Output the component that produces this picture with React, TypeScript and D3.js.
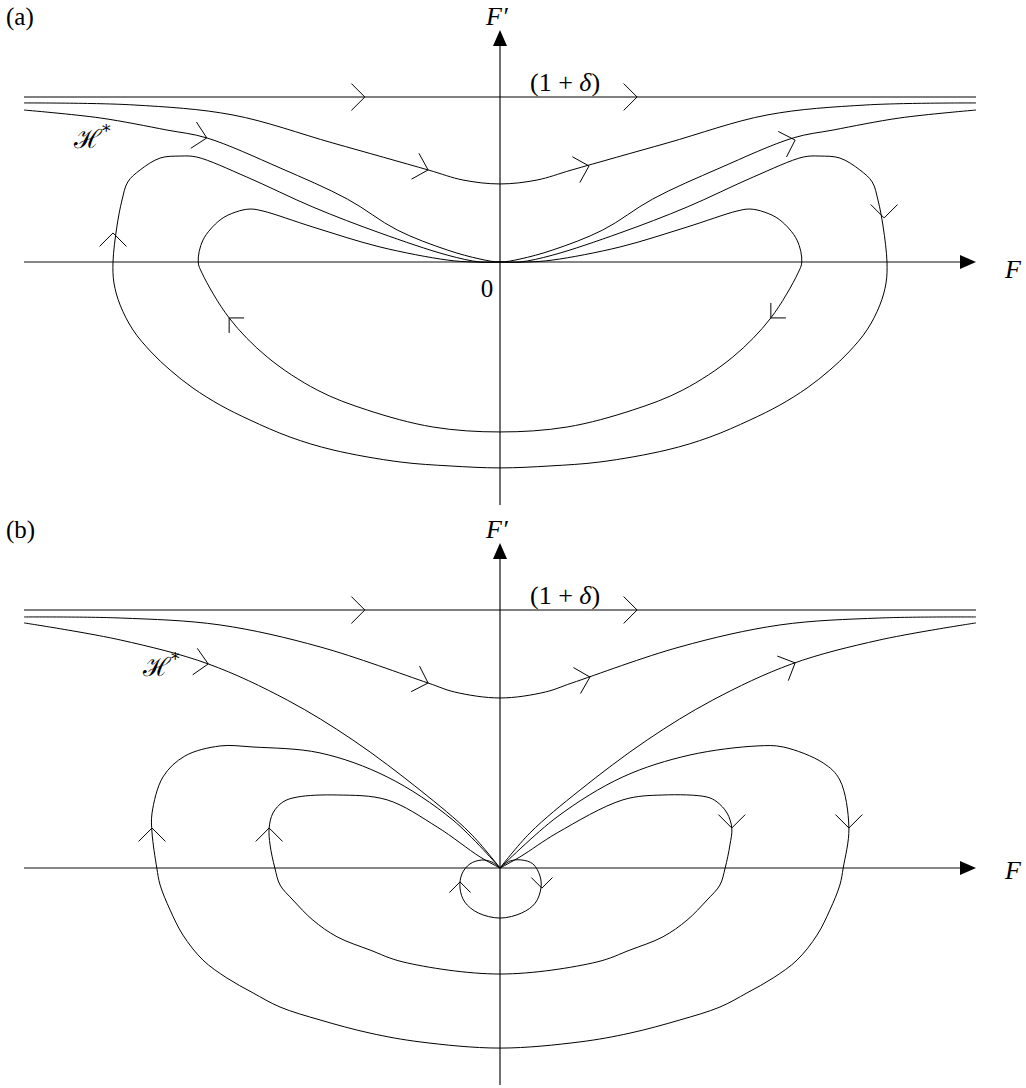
import React, { useRef, useEffect } from "react";
import * as d3 from "d3";

type Pt = [number, number];
// [F, F', heading of the flow in degrees, screen orientation]
type Arrow = [number, number, number];

// F' is normalised so that the level line (1 + delta) sits at 1, F so that the axis ends at +/-1

// ---------- panel (a) ----------
const levelLineA: Pt[] = [[-1, 1], [1, 1]];

const upperOrbitA: Pt[] = [
  [-1, 0.964], [-0.771, 0.952], [-0.561, 0.891], [-0.351, 0.721], [-0.151, 0.558],
  [-0.078, 0.497], [0, 0.473], [0.078, 0.497], [0.151, 0.558], [0.351, 0.721],
  [0.561, 0.891], [0.771, 0.952], [1, 0.964],
];

const hStarA: Pt[] = [
  [-1, 0.921], [-0.84, 0.873], [-0.7, 0.8], [-0.616, 0.752], [-0.462, 0.57],
  [-0.321, 0.382], [-0.216, 0.194], [-0.111, 0.073], [-0.042, 0.018], [0, 0],
  [0.042, 0.018], [0.111, 0.073], [0.216, 0.194], [0.321, 0.382], [0.462, 0.57],
  [0.616, 0.752], [0.7, 0.8], [0.84, 0.873], [1, 0.921],
];

const outerLoopA: Pt[] = [
  [0, 0], [-0.042, 0], [-0.111, 0.042], [-0.252, 0.176], [-0.393, 0.333], [-0.532, 0.515],
  [-0.637, 0.636], [-0.672, 0.642], [-0.714, 0.63], [-0.756, 0.558], [-0.782, 0.485],
  [-0.794, 0.376], [-0.805, 0.212], [-0.813, 0], [-0.811, -0.127], [-0.798, -0.261],
  [-0.771, -0.412], [-0.733, -0.545], [-0.693, -0.655], [-0.645, -0.764], [-0.588, -0.867],
  [-0.525, -0.958], [-0.441, -1.061], [-0.351, -1.139], [-0.21, -1.212], [-0.105, -1.236],
  [0, -1.248],
  [0.105, -1.236], [0.21, -1.212], [0.351, -1.139], [0.441, -1.061], [0.525, -0.958],
  [0.588, -0.867], [0.645, -0.764], [0.693, -0.655], [0.733, -0.545], [0.771, -0.412],
  [0.798, -0.261], [0.811, -0.127], [0.813, 0], [0.805, 0.212], [0.794, 0.376],
  [0.782, 0.485], [0.756, 0.558], [0.714, 0.63], [0.672, 0.642], [0.637, 0.636],
  [0.532, 0.515], [0.393, 0.333], [0.252, 0.176], [0.111, 0.042], [0.042, 0], [0, 0],
];

const innerLoopA: Pt[] = [
  [0, 0], [-0.057, 0], [-0.111, 0.012], [-0.252, 0.091], [-0.393, 0.212], [-0.498, 0.309],
  [-0.525, 0.321], [-0.555, 0.303], [-0.588, 0.255], [-0.624, 0.133], [-0.634, 0],
  [-0.626, -0.067], [-0.569, -0.339], [-0.489, -0.576], [-0.384, -0.776], [-0.279, -0.897],
  [-0.141, -1.0], [0, -1.03],
  [0.141, -1.0], [0.279, -0.897], [0.384, -0.776], [0.489, -0.576], [0.569, -0.339],
  [0.626, -0.067], [0.634, 0], [0.624, 0.133], [0.588, 0.255], [0.555, 0.303],
  [0.525, 0.321], [0.498, 0.309], [0.393, 0.212], [0.252, 0.091], [0.111, 0.012],
  [0.057, 0], [0, 0],
];

const arrowsA: Arrow[] = [
  [-0.284, 1, 0], [0.288, 1, 0],
  [-0.151, 0.558, 16], [0.187, 0.582, -16],
  [-0.616, 0.752, 12], [0.62, 0.739, -18],
  [-0.813, 0.176, -90], [0.807, 0.267, 90],
];
const smallArrowsA: Arrow[] = [[-0.569, -0.339, 225], [0.569, -0.339, 135]];

// ---------- panel (b) ----------
const levelLineB: Pt[] = [[-1, 1], [1, 1]];

const upperOrbitB: Pt[] = [
  [-1, 0.973], [-0.798, 0.969], [-0.588, 0.942], [-0.378, 0.857], [-0.151, 0.717],
  [-0.095, 0.682], [0, 0.659], [0.095, 0.682], [0.151, 0.717], [0.378, 0.857],
  [0.588, 0.942], [0.798, 0.969], [1, 0.973],
];

const hStarBLeft: Pt[] = [
  [-1, 0.95], [-0.798, 0.884], [-0.613, 0.791], [-0.447, 0.651], [-0.309, 0.496],
  [-0.168, 0.302], [-0.063, 0.136], [0, 0],
];
const hStarBRight: Pt[] = [
  [0, 0], [0.063, 0.136], [0.168, 0.302], [0.309, 0.496], [0.447, 0.651],
  [0.613, 0.791], [0.798, 0.884], [1, 0.95],
];

const outerLoopB: Pt[] = [
  [0, 0], [0.12, 0.198], [0.258, 0.353], [0.399, 0.438], [0.54, 0.473], [0.595, 0.469],
  [0.679, 0.407], [0.714, 0.341], [0.733, 0.155], [0.721, 0], [0.714, -0.066],
  [0.693, -0.163], [0.666, -0.26], [0.624, -0.357], [0.574, -0.426], [0.519, -0.484],
  [0.462, -0.539], [0.378, -0.589], [0.273, -0.64], [0.168, -0.674], [0, -0.698],
  [-0.168, -0.674], [-0.273, -0.64], [-0.378, -0.589], [-0.462, -0.539], [-0.519, -0.484],
  [-0.574, -0.426], [-0.624, -0.357], [-0.666, -0.26], [-0.693, -0.163], [-0.714, -0.066],
  [-0.721, 0], [-0.731, 0.136], [-0.731, 0.213], [-0.708, 0.353], [-0.662, 0.434],
  [-0.588, 0.473], [-0.519, 0.469], [-0.378, 0.446], [-0.237, 0.353], [-0.099, 0.186], [0, 0],
];

const innerLoopB: Pt[] = [
  [0, 0], [0.042, 0.043], [0.12, 0.136], [0.258, 0.264], [0.342, 0.283], [0.435, 0.275],
  [0.456, 0.256], [0.477, 0.213], [0.487, 0.155], [0.483, 0.089], [0.473, 0],
  [0.462, -0.066], [0.435, -0.124], [0.393, -0.202], [0.342, -0.267], [0.273, -0.318],
  [0.204, -0.364], [0, -0.411], [-0.204, -0.364], [-0.273, -0.318], [-0.342, -0.267],
  [-0.393, -0.202], [-0.435, -0.124], [-0.462, -0.066], [-0.473, 0], [-0.483, 0.089],
  [-0.485, 0.155], [-0.477, 0.213], [-0.456, 0.256], [-0.426, 0.275], [-0.342, 0.283],
  [-0.237, 0.264], [-0.132, 0.159], [-0.042, 0.043], [0, 0],
];

const smallLoopB: Pt[] = [
  [0, 0], [0.021, 0.027], [0.046, 0.031], [0.069, 0.016], [0.084, -0.031], [0.086, -0.078],
  [0.074, -0.136], [0.046, -0.174], [0, -0.194], [-0.046, -0.174], [-0.074, -0.132],
  [-0.084, -0.078], [-0.08, -0.023], [-0.063, 0.016], [-0.038, 0.031], [-0.017, 0.023], [0, 0],
];

const arrowsB: Arrow[] = [
  [-0.284, 1, 0], [0.288, 1, 0],
  [-0.151, 0.717, 18], [0.189, 0.74, -15],
  [-0.613, 0.791, 10], [0.62, 0.795, -24],
  [-0.731, 0.155, -90], [-0.485, 0.155, -90], [0.487, 0.155, 90], [0.733, 0.155, 90],
];
const smallArrowsB: Arrow[] = [[-0.084, -0.054, -90], [0.088, -0.078, 90]];

const panelTags = ["(a)", "(b)"];
const levelLabel = "1 + ";
const orbitLabel = "ℋ";

const App = () => {
  const svgRef = useRef<SVGSVGElement>(null);

  useEffect(() => {
    const svg = d3.select(svgRef.current);
    svg.selectAll("*").remove();

    const x = d3.scaleLinear().domain([-1, 1]).range([24, 976]);
    const serif = "'Liberation Serif', 'DejaVu Serif', serif";
    const fs = 25;

    const panels = [
      {
        tag: panelTags[0],
        y: d3.scaleLinear().domain([0, 1]).range([262, 97]),
        span: [-1.473, 1.406],
        lines: [levelLineA, upperOrbitA, hStarA, outerLoopA, innerLoopA],
        arrows: arrowsA,
        small: smallArrowsA,
        showZero: true,
        hLabel: [74, 148],
        tagY: 25,
        fDy: 16,
      },
      {
        tag: panelTags[1],
        y: d3.scaleLinear().domain([0, 1]).range([868, 610]),
        span: [-0.841, 1.26],
        lines: [levelLineB, upperOrbitB, hStarBLeft, hStarBRight, outerLoopB, innerLoopB, smallLoopB],
        arrows: arrowsB,
        small: smallArrowsB,
        showZero: false,
        hLabel: [143, 676],
        tagY: 538,
        fDy: 11,
      },
    ];

    const chevron = (px: number, py: number, heading: number, len: number) => {
      const back = ((heading + 180) * Math.PI) / 180;
      const half = Math.PI / 4;
      const a1 = [px + len * Math.cos(back - half), py + len * Math.sin(back - half)];
      const a2 = [px + len * Math.cos(back + half), py + len * Math.sin(back + half)];
      return `M${a1[0]},${a1[1]}L${px},${py}L${a2[0]},${a2[1]}`;
    };

    panels.forEach((p) => {
      const g = svg.append("g");
      const y = p.y;

      // axes
      g.append("line")
        .attr("x1", x(-1)).attr("x2", x(1) - 12)
        .attr("y1", y(0)).attr("y2", y(0))
        .attr("stroke", "#111").attr("stroke-width", 1.2);
      g.append("line")
        .attr("x1", x(0)).attr("x2", x(0))
        .attr("y1", y(p.span[0])).attr("y2", y(p.span[1]) + 12)
        .attr("stroke", "#111").attr("stroke-width", 1.2);
      g.append("path")
        .attr("d", `M${x(1)},${y(0)}L${x(1) - 16},${y(0) - 7}L${x(1) - 16},${y(0) + 7}Z`)
        .attr("fill", "#000");
      g.append("path")
        .attr("d", `M${x(0)},${y(p.span[1])}L${x(0) - 7},${y(p.span[1]) + 16}L${x(0) + 7},${y(p.span[1]) + 16}Z`)
        .attr("fill", "#000");

      // trajectories
      const line = d3
        .line<Pt>()
        .x((d) => x(d[0]))
        .y((d) => y(d[1]))
        .curve(d3.curveCatmullRom.alpha(0.5));

      g.selectAll("path.traj")
        .data(p.lines)
        .enter()
        .append("path")
        .attr("class", "traj")
        .attr("d", (d) => line(d))
        .attr("fill", "none")
        .attr("stroke", "#000")
        .attr("stroke-width", 1);

      // direction markers
      g.selectAll("path.arrow")
        .data(p.arrows)
        .enter()
        .append("path")
        .attr("class", "arrow")
        .attr("d", (d) => chevron(x(d[0]), y(d[1]), d[2], 19))
        .attr("fill", "none")
        .attr("stroke", "#000")
        .attr("stroke-width", 1);
      g.selectAll("path.sarrow")
        .data(p.small)
        .enter()
        .append("path")
        .attr("class", "sarrow")
        .attr("d", (d) => chevron(x(d[0]), y(d[1]), d[2], 15))
        .attr("fill", "none")
        .attr("stroke", "#000")
        .attr("stroke-width", 1);

      // labels
      g.append("text")
        .attr("x", 6).attr("y", p.tagY)
        .attr("font-family", serif).attr("font-size", fs)
        .text(p.tag);

      g.append("text")
        .attr("x", x(0) - 14).attr("y", y(p.span[1]) - 5)
        .attr("font-family", serif).attr("font-size", fs + 1).attr("font-style", "italic")
        .text("F′");

      g.append("text")
        .attr("x", x(1) + 29).attr("y", y(0) + p.fDy)
        .attr("font-family", serif).attr("font-size", fs + 1).attr("font-style", "italic")
        .text("F");

      if (p.showZero) {
        g.append("text")
          .attr("x", x(0) - 13).attr("y", y(0) + 35)
          .attr("text-anchor", "middle")
          .attr("font-family", serif).attr("font-size", fs)
          .text("0");
      }

      const lvl = g.append("text")
        .attr("x", x(0) + 30).attr("y", y(1) - 6)
        .attr("font-family", serif).attr("font-size", fs + 1);
      lvl.append("tspan").text("(" + levelLabel);
      lvl.append("tspan").attr("font-style", "italic").text("δ");
      lvl.append("tspan").text(")");

      const h = g.append("text")
        .attr("x", p.hLabel[0]).attr("y", p.hLabel[1])
        .attr("font-family", "'DejaVu Serif', serif").attr("font-size", 26);
      h.append("tspan").text(orbitLabel);
      h.append("tspan").attr("dy", -11).attr("font-size", 17).text("*");
    });
  }, []);

  return (
    <svg
      ref={svgRef}
      width={1026}
      height={1088}
      style={{ display: "block", position: "absolute", left: 0, top: 0, background: "#fff" }}
    />
  );
};

export default App;
